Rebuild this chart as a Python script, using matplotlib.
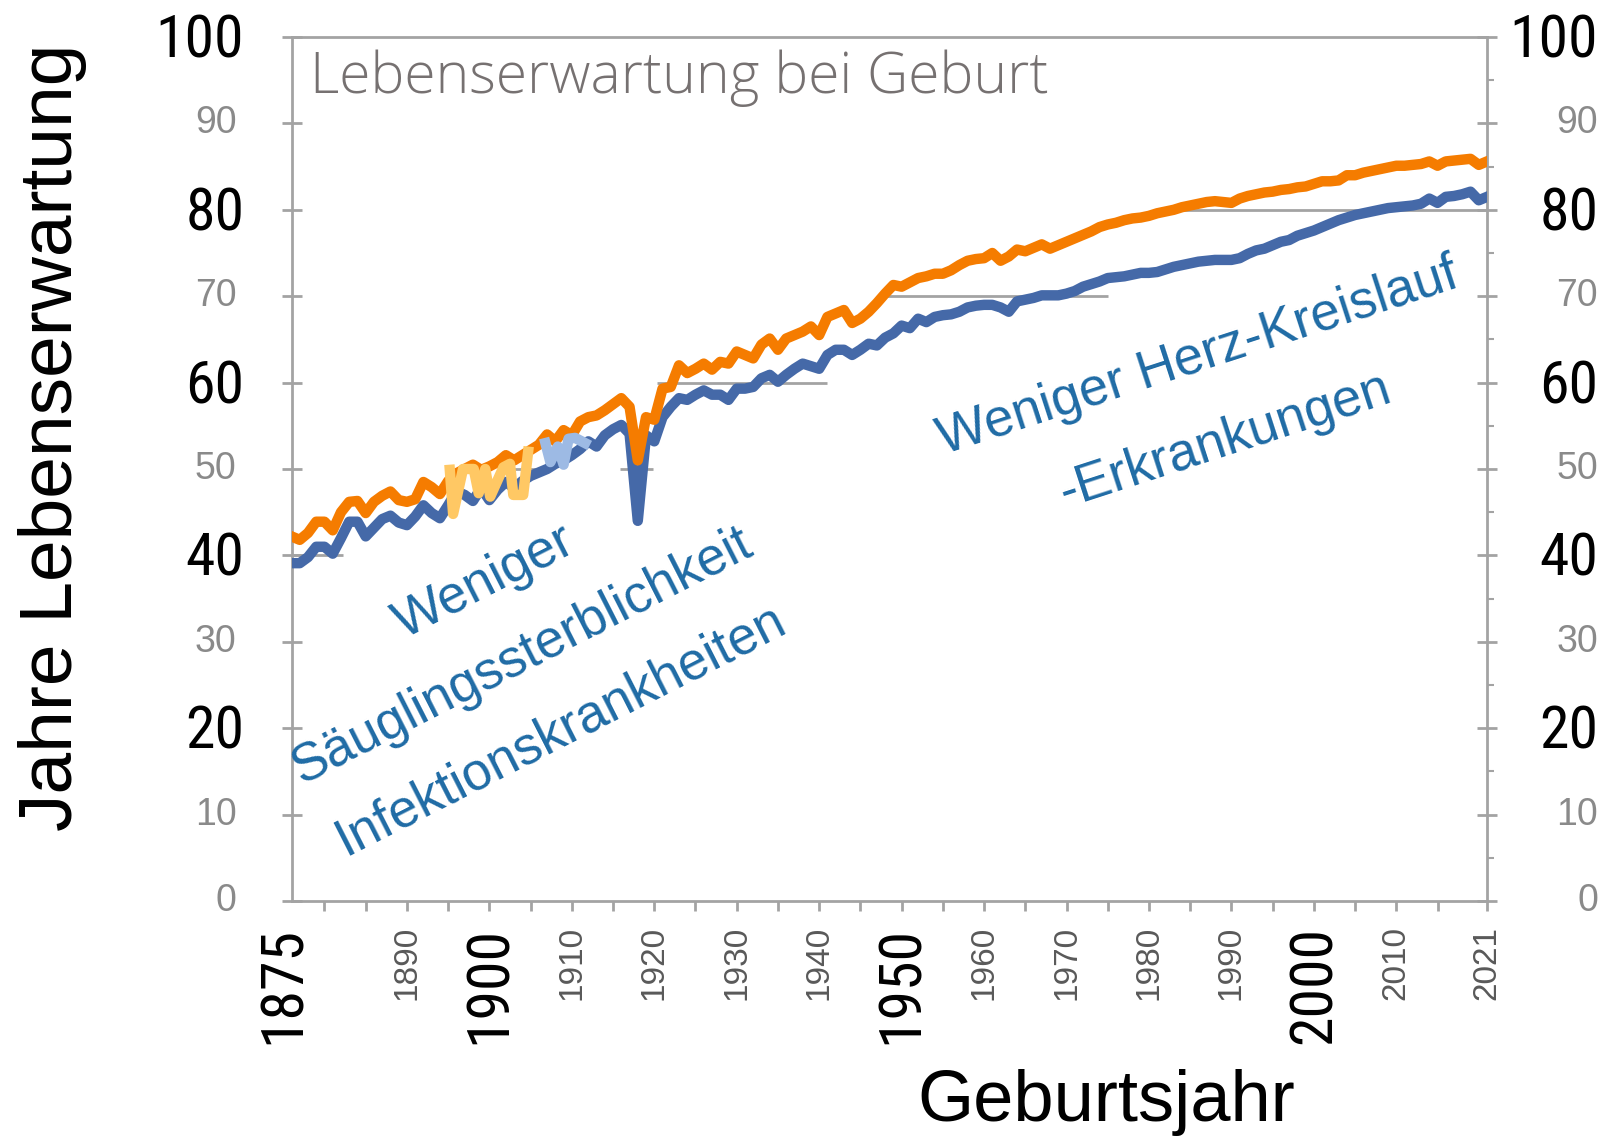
import numpy as np
import matplotlib
matplotlib.use("Agg")
from matplotlib import pyplot as plt
from matplotlib import font_manager
from matplotlib.ticker import MultipleLocator
from matplotlib.transforms import offset_copy

jahre = np.arange(1876, 2022)

# Lebenserwartung Frauen (orange), je Zeile 10 Jahre ab 1876
frauen = [
    42.2, 41.8, 42.6, 43.9, 43.9, 42.9, 45.0, 46.2, 46.3, 44.9,   # 1876-1885
    46.2, 46.9, 47.4, 46.4, 46.2, 46.5, 48.5, 47.9, 47.1, 48.6,   # 1886-1895
    49.5, 50.0, 50.5, 49.9, 50.3, 50.8, 51.6, 51.0, 51.6, 52.2,   # 1896-1905
    52.8, 54.0, 53.2, 54.5, 53.9, 55.5, 56.0, 56.2, 56.8, 57.5,   # 1906-1915
    58.2, 57.2, 51.0, 56.0, 55.7, 59.3, 59.5, 62.0, 61.1, 61.6,   # 1916-1925
    62.2, 61.5, 62.4, 62.2, 63.6, 63.2, 62.8, 64.4, 65.1, 63.8,   # 1926-1935
    65.1, 65.5, 65.9, 66.5, 65.5, 67.6, 68.0, 68.4, 66.9, 67.4,   # 1936-1945
    68.2, 69.2, 70.3, 71.3, 71.1, 71.6, 72.1, 72.3, 72.6, 72.6,   # 1946-1955
    73.0, 73.6, 74.1, 74.3, 74.4, 75.0, 74.1, 74.6, 75.4, 75.2,   # 1956-1965
    75.6, 76.0, 75.5, 75.9, 76.3, 76.7, 77.1, 77.5, 78.0, 78.3,   # 1966-1975
    78.5, 78.8, 79.0, 79.1, 79.3, 79.6, 79.8, 80.0, 80.3, 80.5,   # 1976-1985
    80.7, 80.9, 81.0, 80.9, 80.8, 81.3, 81.6, 81.8, 82.0, 82.1,   # 1986-1995
    82.3, 82.4, 82.6, 82.7, 83.0, 83.3, 83.3, 83.4, 84.0, 84.0,   # 1996-2005
    84.3, 84.5, 84.7, 84.9, 85.1, 85.1, 85.2, 85.3, 85.6, 85.1,   # 2006-2015
    85.6, 85.7, 85.8, 85.9, 85.2, 85.6,                           # 2016-2021
]

# Lebenserwartung Maenner (blau)
maenner = [
    39.1, 39.1, 39.8, 41.0, 41.0, 40.2, 42.0, 43.9, 43.9, 42.2,   # 1876-1885
    43.2, 44.2, 44.6, 43.8, 43.5, 44.5, 45.8, 44.9, 44.3, 45.8,   # 1886-1895
    47.4, 47.0, 46.3, 47.8, 46.4, 47.6, 48.5, 47.8, 48.6, 49.2,   # 1896-1905
    49.6, 50.0, 50.6, 51.0, 51.6, 52.3, 53.2, 52.6, 53.9, 54.6,   # 1906-1915
    55.1, 54.1, 44.0, 53.9, 53.2, 56.0, 57.2, 58.2, 58.0, 58.6,   # 1916-1925
    59.1, 58.6, 58.6, 58.0, 59.3, 59.3, 59.5, 60.5, 60.9, 60.1,   # 1926-1935
    60.9, 61.6, 62.2, 61.9, 61.6, 63.2, 63.8, 63.8, 63.2, 63.8,   # 1936-1945
    64.5, 64.3, 65.2, 65.7, 66.6, 66.3, 67.4, 67.0, 67.6, 67.8,   # 1946-1955
    67.9, 68.2, 68.7, 68.9, 69.0, 69.0, 68.7, 68.2, 69.4, 69.6,   # 1956-1965
    69.8, 70.1, 70.1, 70.1, 70.3, 70.6, 71.1, 71.4, 71.7, 72.1,   # 1966-1975
    72.2, 72.3, 72.5, 72.7, 72.7, 72.8, 73.1, 73.4, 73.6, 73.8,   # 1976-1985
    74.0, 74.1, 74.2, 74.2, 74.2, 74.4, 74.9, 75.3, 75.5, 75.9,   # 1986-1995
    76.3, 76.5, 77.0, 77.3, 77.6, 78.0, 78.4, 78.8, 79.1, 79.4,   # 1996-2005
    79.6, 79.8, 80.0, 80.2, 80.3, 80.4, 80.5, 80.7, 81.3, 80.8,   # 2006-2015
    81.5, 81.6, 81.8, 82.1, 81.1, 81.5,                           # 2016-2021
]

# helle Reste im Bild (aufgeklebte Textfelder ueberdecken die Linien)
hell_or_x = [1895.2, 1895.6, 1896.8, 1898.1, 1898.7, 1899.5, 1900.1, 1901.7, 1902.5, 1902.9, 1904.1, 1904.7]
hell_or_y = [49.9, 44.8, 50.0, 50.0, 47.2, 50.0, 46.8, 50.2, 50.6, 47.0, 47.0, 52.0]
hell_bl_x = [1906.8, 1907.4, 1908.3, 1909.0, 1909.6, 1910.4, 1911.6]
hell_bl_y = [53.0, 50.8, 52.6, 50.5, 53.5, 53.6, 53.0]

# sichtbare Reste der Gitterlinien
gitter_wert = [80, 70, 60, 50, 50, 40]
gitter_von = [1982, 1947.5, 1920.3, 1902.7, 1915.9, 1876]
gitter_bis = [2021, 1975, 1941, 1906.8, 1919.9, 1882.3]

y_gross = [100, 80, 60, 40, 20]
y_klein = [90, 70, 50, 30, 10, 0]
x_gross = [1875, 1900, 1950, 2000]
x_klein = [1890, 1910, 1920, 1930, 1940, 1960, 1970, 1980, 1990, 2010, 2021]
x_striche = list(range(1880, 2020, 5)) + [2021]

orange = '#F57C00'
blau = '#4569A8'
textblau = '#1F6BA5'
grau = '#A3A3A3'

# schmale Schrift fuer die grossen Zahlen, falls vorhanden
namen = {f.name for f in font_manager.fontManager.ttflist}
if 'Liberation Sans Narrow' in namen:
    schmal, gr = 'Liberation Sans Narrow', 46
elif 'Roboto Condensed' in namen:
    schmal, gr = 'Roboto Condensed', 43
else:
    schmal, gr = 'Liberation Sans', 40

W, H = 1604, 1143
fig = plt.figure(figsize=(W/100, H/100), dpi=100)
ax = fig.add_axes([291.5/W, 1 - 901/H, (1487 - 291.5)/W, (901 - 37)/H])

ax.hlines(gitter_wert, gitter_von, gitter_bis, color=grau, lw=2, zorder=1)
ax.plot(jahre, maenner, color=blau, lw=7.5, zorder=3)
ax.plot(jahre, frauen, color=orange, lw=7.5, zorder=4)
ax.plot(hell_or_x, hell_or_y, color='#FFC864', lw=7.5, zorder=5)
ax.plot(hell_bl_x, hell_bl_y, color='#9DBAE4', lw=7.5, zorder=5)

ax.set_xlim(1876, 2021)
ax.set_ylim(0, 100)
for s in ax.spines.values():
    s.set_color(grau)
    s.set_linewidth(2)

ax.set_xticks(x_striche)
ax.set_yticks(range(0, 101, 10))
ax.yaxis.set_minor_locator(MultipleLocator(5))
ax.tick_params(axis='x', direction='out', length=7, width=2, color=grau, labelbottom=False)
ax.tick_params(axis='y', which='major', direction='inout', length=14, width=2, color=grau,
               left=True, right=True, labelleft=False)
ax.tick_params(axis='y', which='minor', direction='out', length=5, width=1.5, color=grau,
               left=False, right=True)

ytr = offset_copy(ax.get_yaxis_transform(), fig=fig, y=-4, units='dots')
ytr_k = ax.get_yaxis_transform()
for v in y_gross:
    ax.text(-0.0395, v, str(v), transform=ytr, ha='right', va='center', fontsize=gr, family=schmal)
    ax.text(1.093, v, str(v), transform=ytr, ha='right', va='center', fontsize=gr, family=schmal)
for v in y_klein:
    ax.text(-0.046, v, str(v), transform=ytr_k, ha='right', va='center', fontsize=27,
            color='#8A8A8A', family='Liberation Sans')
    ax.text(1.093, v, str(v), transform=ytr_k, ha='right', va='center', fontsize=27,
            color='#8A8A8A', family='Liberation Sans')

xtr = ax.get_xaxis_transform()
for j in x_gross:
    ax.text(j, -0.029, str(j), transform=xtr, rotation=90, ha='center', va='top',
            fontsize=gr, family=schmal)
for j in x_klein:
    ax.text(j, -0.029, str(j), transform=xtr, rotation=90, ha='center', va='top',
            fontsize=24, color='#595959', family='Liberation Sans')

ax.text(0.0155, 0.986, 'Lebenserwartung bei Geburt', transform=ax.transAxes, ha='left', va='top',
        fontsize=41, color='#767171', family='Open Sans', fontweight='light')

ax.text(1904.0, 28.3, 'Weniger\nSäuglingssterblichkeit\nInfektionskrankheiten', rotation=27,
        rotation_mode='anchor', ha='center', va='center', multialignment='center',
        fontsize=38, color=textblau, family='Liberation Sans', linespacing=1.85)
ax.text(1987.6, 58.1, 'Weniger Herz-Kreislauf\n-Erkrankungen', rotation=18,
        rotation_mode='anchor', ha='center', va='center', multialignment='center',
        fontsize=38, color=textblau, family='Liberation Sans', linespacing=1.95)

fig.text(53/W, 1 - 437/H, 'Jahre Lebenserwartung', rotation=90, ha='center', va='center',
         fontsize=54, family='Liberation Sans')
fig.text(1106/W, 1 - 1103/H, 'Geburtsjahr', ha='center', va='center',
         fontsize=52, family='Liberation Sans')

fig.savefig('out.png', dpi=100)
